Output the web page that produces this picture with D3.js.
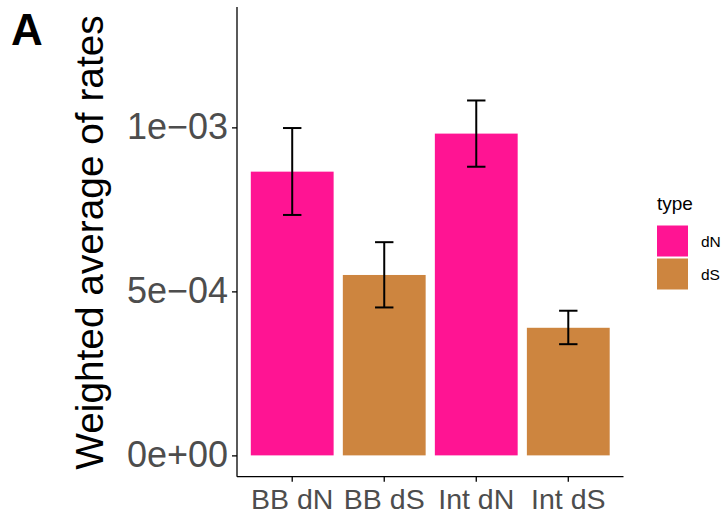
<!DOCTYPE html>
<html lang="en">
<head>
    <meta charset="UTF-8">
    <title>Weighted average of rates</title>
    <script src="https://d3js.org/d3.v7.min.js"></script>
    <style>
        body {
            margin: 0;
            background: white;
            font-family: "Liberation Sans", Arial, sans-serif;
        }
        .axis path, .axis line {
            stroke: black;
            stroke-width: 1.3px;
        }
        .axis text {
            fill: #4d4d4d;
        }
    </style>
</head>
<body>
    <div id="chart"></div>

    <script>
        // Data
        const categories = ["BB dN", "BB dS", "Int dN", "Int dS"];
        const types = ["dN", "dS", "dN", "dS"];
        const values = [0.865e-3, 0.550e-3, 0.981e-3, 0.389e-3];
        const errLow = [0.733e-3, 0.451e-3, 0.880e-3, 0.339e-3];
        const errHigh = [0.998e-3, 0.650e-3, 1.082e-3, 0.441e-3];
        const yTicks = [0, 5e-4, 1e-3];
        const yTickLabels = ["0e+00", "5e\u221204", "1e\u221203"];
        const legendTypes = ["dN", "dS"];
        const colors = { dN: "#FF1493", dS: "#CD853F" };

        const data = categories.map((c, i) => ({
            cat: c, type: types[i], value: values[i], lo: errLow[i], hi: errHigh[i]
        }));

        const W = 726, H = 516;
        const plot = { left: 237, right: 623.5, top: 7, bottom: 476.7 };

        const svg = d3.select("#chart")
            .append("svg")
            .attr("width", W)
            .attr("height", H);

        // Scales
        const step = (plot.right - plot.left) / (categories.length + 0.2);
        const x = d3.scaleBand()
            .domain(categories)
            .range([plot.left + 0.6 * step - step / 2, plot.right - 0.6 * step + step / 2])
            .paddingInner(0.1)
            .paddingOuter(0.05);

        const y = d3.scaleLinear()
            .domain([-0.065e-3, 1.367e-3])
            .range([plot.bottom, plot.top]);

        // Bars
        svg.selectAll(".bar")
            .data(data)
            .enter()
            .append("rect")
            .attr("class", "bar")
            .attr("x", d => x(d.cat))
            .attr("y", d => y(d.value))
            .attr("width", x.bandwidth())
            .attr("height", d => y(0) - y(d.value))
            .style("fill", d => colors[d.type]);

        // Error bars
        const capW = x.step() * 0.2;
        const eb = svg.selectAll(".err")
            .data(data)
            .enter()
            .append("g")
            .attr("class", "err")
            .style("stroke", "black")
            .style("stroke-width", 2);
        eb.append("line")
            .attr("x1", d => x(d.cat) + x.bandwidth() / 2)
            .attr("x2", d => x(d.cat) + x.bandwidth() / 2)
            .attr("y1", d => y(d.lo))
            .attr("y2", d => y(d.hi));
        eb.append("line")
            .attr("x1", d => x(d.cat) + x.bandwidth() / 2 - capW / 2)
            .attr("x2", d => x(d.cat) + x.bandwidth() / 2 + capW / 2)
            .attr("y1", d => y(d.lo))
            .attr("y2", d => y(d.lo));
        eb.append("line")
            .attr("x1", d => x(d.cat) + x.bandwidth() / 2 - capW / 2)
            .attr("x2", d => x(d.cat) + x.bandwidth() / 2 + capW / 2)
            .attr("y1", d => y(d.hi))
            .attr("y2", d => y(d.hi));

        // Axes
        const xAxis = svg.append("g")
            .attr("class", "axis")
            .attr("transform", `translate(0, ${plot.bottom})`)
            .call(d3.axisBottom(x).tickSize(5).tickSizeOuter(0).tickPadding(7));
        xAxis.select(".domain").attr("d", `M${plot.left},0H${plot.right}`);
        xAxis.selectAll("text")
            .style("font-size", "28.5px")
            .style("font-family", "'Liberation Sans', Arial, sans-serif");

        const yAxis = svg.append("g")
            .attr("class", "axis")
            .attr("transform", `translate(${plot.left}, 0)`)
            .call(d3.axisLeft(y)
                .tickValues(yTicks)
                .tickFormat((d, i) => yTickLabels[i])
                .tickSize(5)
                .tickSizeOuter(0)
                .tickPadding(4));
        yAxis.select(".domain").attr("d", `M0,${plot.top}V${plot.bottom}`);
        yAxis.selectAll("text")
            .style("font-size", "36px")
            .style("font-family", "'Liberation Sans', Arial, sans-serif");

        // Axis title
        svg.append("text")
            .attr("transform", `translate(103, 242.5) rotate(-90)`)
            .attr("text-anchor", "middle")
            .style("font-size", "38.8px")
            .style("fill", "black")
            .text("Weighted average of rates");

        // Panel tag
        svg.append("text")
            .attr("x", 11)
            .attr("y", 45)
            .style("font-size", "44px")
            .style("font-weight", "bold")
            .text("A");

        // Legend
        const legend = svg.append("g").attr("transform", "translate(657, 0)");
        legend.append("text")
            .attr("x", 0)
            .attr("y", 210)
            .style("font-size", "19px")
            .text("type");
        const items = legend.selectAll(".key")
            .data(legendTypes)
            .enter()
            .append("g")
            .attr("transform", (d, i) => `translate(0, ${225.5 + i * 33})`);
        items.append("rect")
            .attr("width", 31)
            .attr("height", 31)
            .style("fill", d => colors[d]);
        items.append("text")
            .attr("x", 44)
            .attr("y", 16)
            .attr("dy", "0.35em")
            .style("font-size", "15.5px")
            .text(d => d);
    </script>
</body>
</html>
